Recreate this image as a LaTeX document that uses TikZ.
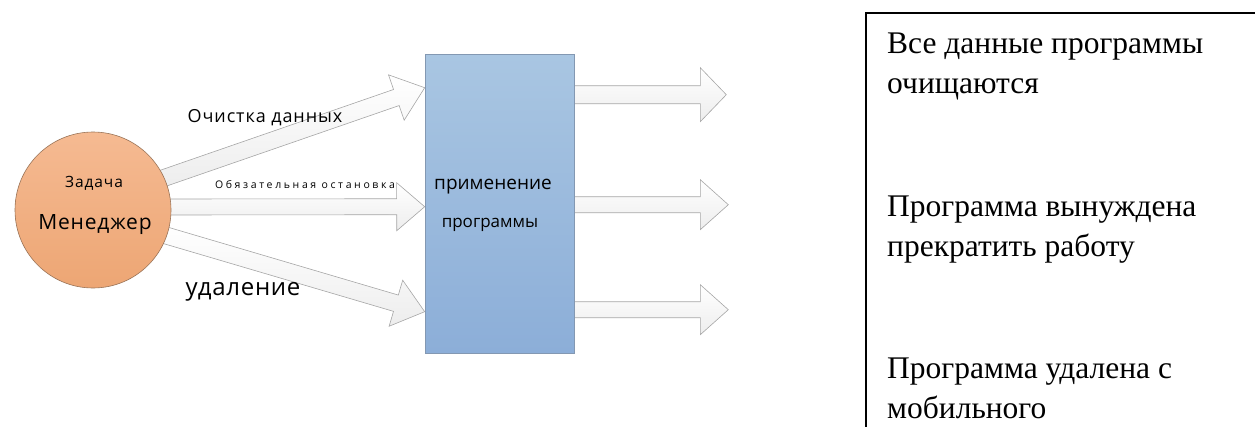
\documentclass[tikz,border=0pt]{standalone}
\usepackage{fontspec}
\setmainfont{Liberation Serif}
\newfontfamily\diagfont{Open Sans}
\usetikzlibrary{calc,backgrounds}

\definecolor{mgrtop}{HTML}{F5BA92}
\definecolor{mgrbot}{HTML}{EDA674}
\definecolor{mgrline}{HTML}{9A7458}
\definecolor{apptop}{HTML}{A9C6E2}
\definecolor{appbot}{HTML}{8CAED8}
\definecolor{appline}{HTML}{8398B2}
\definecolor{arrline}{HTML}{A6A6A6}

\tikzset{
  blockarr/.style={draw=arrline, line width=0.6pt, top color=white, bottom color=gray!14},
  mgrbox/.style={circle, draw=mgrline, line width=0.6pt, top color=mgrtop, bottom color=mgrbot, minimum size=156pt, inner sep=0pt},
  appbox/.style={rectangle, draw=appline, line width=0.6pt, top color=apptop, bottom color=appbot, minimum width=149pt, minimum height=299pt, inner sep=0pt},
  difont/.style={font=\diagfont\fontsize{#1}{#1}\selectfont, inner sep=0pt},
  resline/.style={font=\fontsize{31.5}{36}\selectfont, anchor=base west, inner sep=0pt},
}

% wider tracking for the sans labels
\newcommand\track[2]{{\addfontfeature{LetterSpace=#1}#2}}

% block arrow from #1 to #2: shaft half width #3, head half width #4, head length #5
\newcommand\blockarrow[5]{%
  \path let \p1=(#1), \p2=(#2) in \pgfextra{%
    \pgfmathsetmacro\tmpang{atan2((\y2)-(\y1),(\x2)-(\x1))}\global\let\arrang\tmpang
    \pgfmathsetmacro\tmplen{veclen((\x2)-(\x1),(\y2)-(\y1))}\global\let\arrlen\tmplen};
  \begin{scope}[shift={(#1)},rotate=\arrang]
    \path[blockarr] (0pt,-#3) -- ({\arrlen pt-#5},-#3) -- ({\arrlen pt-#5},-#4)
      -- (\arrlen pt,0pt) -- ({\arrlen pt-#5},#4) -- ({\arrlen pt-#5},#3)
      -- (0pt,#3) -- cycle;
  \end{scope}}

\begin{document}
\begin{tikzpicture}[x=1pt,y=-1pt]
\useasboundingbox (0,0) rectangle (1255,426);

% manager circle and application block
\node[mgrbox] (mgr) at (93,210) {};
\node[difont=15.5] (mgrA) at (94,183) {\track{6}{Задача}};
\node[difont=21] (mgrB) at (95,225) {\track{4}{Менеджер}};

\node[appbox] (app) at (499.5,203.5) {};
\node[difont=19] (appA) at (493,187) {применение};
\node[difont=17] (appB) at (490,225) {программы};

% arrow end points
\coordinate (s1) at ($(mgr.center)+(68,-31)$);
\coordinate (s2) at ($(mgr.center)+(70,-3)$);
\coordinate (s3) at ($(mgr.center)+(68,24)$);
\coordinate (t1) at ($(app.north west)+(0,34)$);
\coordinate (t2) at ($(app.north west)+(0,153)$);
\coordinate (t3) at ($(app.north west)+(0,258)$);
\coordinate (u1) at ($(app.north east)+(0,41)$);
\coordinate (u2) at ($(app.north east)+(0,151)$);
\coordinate (u3) at ($(app.north east)+(0,256)$);
\coordinate (v1) at ($(app.north east)+(152,41)$);
\coordinate (v2) at ($(app.north east)+(154,151)$);
\coordinate (v3) at ($(app.north east)+(154,256)$);

\begin{scope}[on background layer]
  \blockarrow{s1}{t1}{8.5pt}{24pt}{30pt}
  \blockarrow{s2}{t2}{8pt}{24pt}{28pt}
  \blockarrow{s3}{t3}{8.5pt}{24pt}{30pt}
  \blockarrow{u1}{v1}{9pt}{27pt}{26pt}
  \blockarrow{u2}{v2}{8pt}{25pt}{28pt}
  \blockarrow{u3}{v3}{8pt}{25pt}{28pt}
\end{scope}

% arrow labels
\node[difont=18] (lab1) at (265,118) {\track{5}{Очистка данных}};
\node[difont=10.5] (lab2) at (305,185) {\track{25}{Обязательная остановка}};
\node[difont=24] (lab3) at (243,292) {\track{3}{удаление}};

% result panel
\draw[line width=1.2pt] (1256,13) -- (866,13) -- (866,427);
\node[resline] (r1) at (887,53) {Все данные программы};
\node[resline] (r2) at (887,93) {очищаются};
\node[resline] (r3) at (887,216) {Программа вынуждена};
\node[resline] (r4) at (887,256) {прекратить работу};
\node[resline] (r5) at (887,378) {Программа удалена с};
\node[resline] (r6) at (887,418) {мобильного};
\end{tikzpicture}
\end{document}
